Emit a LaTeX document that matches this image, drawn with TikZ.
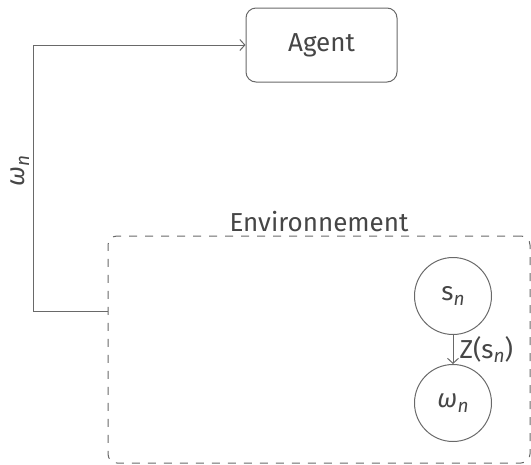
\documentclass[tikz,border=0pt]{standalone}
\usepackage{fontspec}
\setmainfont{Fira Sans}
\definecolor{linegray}{RGB}{105, 105, 105}
\definecolor{textgray}{RGB}{70, 70, 70}
\usetikzlibrary{arrows.meta, positioning}
\newcommand{\subn}{\raisebox{-0.35ex}{\fontsize{19}{19}\selectfont\itshape n}}

\begin{document}
\begin{tikzpicture}[x=1pt, y=-1pt, font=\fontsize{26}{31}\selectfont, text=textgray,
  statenode/.style={draw=linegray, line width=1pt, circle, minimum size=77pt, inner sep=0pt},
  flow/.style={draw=linegray, line width=1pt, -{Straight Barb[length=5pt, width=11pt]}}]
  \useasboundingbox (0,0) rectangle (531,464);
  \node[draw=linegray, line width=1pt, rounded corners=10pt, minimum width=151pt, minimum height=74pt] (agent) at (321.5,45) {Agent};
  \node[draw=linegray, line width=1pt, dash pattern=on 8pt off 8pt, rounded corners=9pt, minimum width=422pt, minimum height=227pt] (env) at (319,349.5) {};
  \node[above=0pt of env.north] (envlabel) {Environnement};
  \node[statenode] (s) at (453,296) {s\subn};
  \node[statenode, below=29pt of s] (w) {\textit{ω}\subn};
  % transitions
  \draw[flow] (s) -- node[right, inner sep=6pt] (zlabel) {Z(s\subn)} (w);
  \coordinate (corner) at (33,311);
  \draw[flow] (env.west |- corner) -- (corner) |- node[pos=0.25, rotate=90, above=7pt] (obs) {\textit{ω}\subn} (agent.west);
\end{tikzpicture}
\end{document}
